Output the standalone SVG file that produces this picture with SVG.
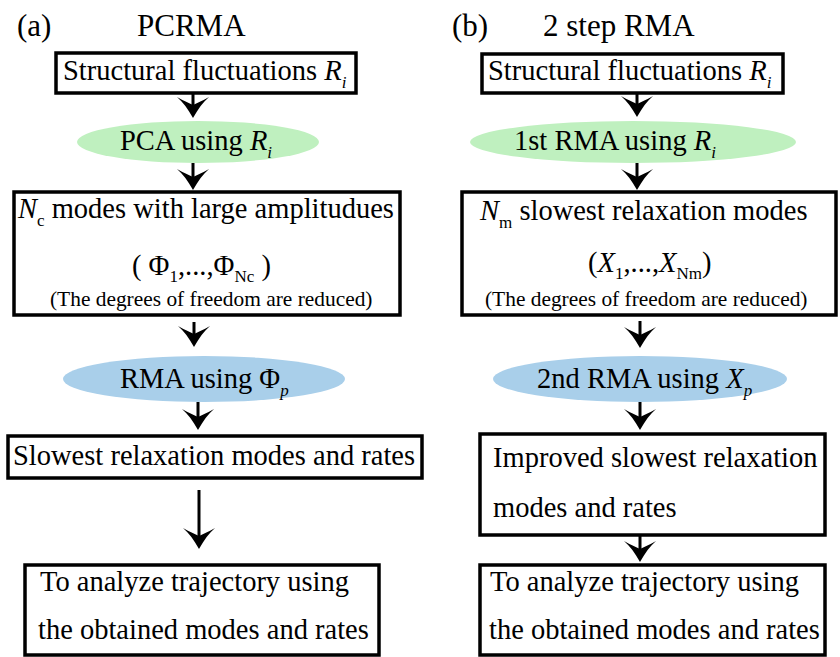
<svg xmlns="http://www.w3.org/2000/svg" xmlns:xlink="http://www.w3.org/1999/xlink" width="840" height="657" viewBox="0 0 840 657" font-family="Liberation Serif, Tinos, Times New Roman, DejaVu Serif, serif">
<style>
text{font-family:"Liberation Serif",Tinos,"Times New Roman","DejaVu Serif",serif;fill:#000}
.t{font-size:28.5px}
.s{font-size:21.4px}
.h{font-size:31px}
.it{font-style:italic}
.sub{font-size:17px}
.box{fill:#fff;stroke:#000;stroke-width:3.5}
.g{fill:#bff0bf}
.b{fill:#a9cfea}
.ln{stroke:#000;stroke-width:3;fill:none}
</style>
<defs>
<path id="ah" d="M0,0 C-5,-9 -10,-16 -16,-21 C-9,-17 -4,-15 0,-13 C4,-15 9,-17 16,-21 C10,-16 5,-9 0,0 Z" fill="#000"/>
</defs>
<rect width="840" height="657" fill="#fff"/>
<g id="titles">
<text class="h" x="17" y="36">(a)</text>
<text class="h" x="137" y="36">PCRMA</text>
<text class="h" x="452" y="36">(b)</text>
<text class="h" x="543" y="36">2 step RMA</text>
</g>
<g id="connectors">
<line class="ln" x1="193" y1="93" x2="193" y2="108"/><use xlink:href="#ah" x="193" y="118"/>
<line class="ln" x1="193" y1="163" x2="193" y2="180"/><use xlink:href="#ah" x="193" y="190"/>
<line class="ln" x1="194" y1="322" x2="194" y2="338"/><use xlink:href="#ah" x="194" y="347"/>
<line class="ln" x1="198" y1="402" x2="198" y2="420"/><use xlink:href="#ah" x="198" y="430"/>
<line class="ln" x1="199" y1="490" x2="199" y2="538"/><use xlink:href="#ah" x="199" y="549"/>
<line class="ln" x1="637" y1="93" x2="637" y2="108"/><use xlink:href="#ah" x="637" y="117"/>
<line class="ln" x1="637" y1="163" x2="637" y2="180"/><use xlink:href="#ah" x="637" y="190"/>
<line class="ln" x1="640" y1="321" x2="640" y2="338"/><use xlink:href="#ah" x="640" y="348"/>
<line class="ln" x1="640" y1="402" x2="640" y2="420"/><use xlink:href="#ah" x="640" y="430"/>
<line class="ln" x1="640" y1="535" x2="640" y2="552"/><use xlink:href="#ah" x="640" y="562"/>
</g>
<g id="a-struct">
<rect class="box" x="56" y="53" width="300" height="40"/>
<text class="t" x="63" y="80">Structural fluctuations <tspan class="it">R</tspan><tspan class="sub it" dy="8">i</tspan></text>
</g>
<g id="a-pca">
<ellipse class="g" cx="198" cy="142" rx="121" ry="21"/>
<text class="t" x="120" y="150">PCA using <tspan class="it">R</tspan><tspan class="sub it" dy="8">i</tspan></text>
</g>
<g id="a-modes">
<rect class="box" x="14" y="192" width="386" height="123"/>
<text class="t" x="18" y="218"><tspan class="it">N</tspan><tspan class="sub" dy="8">c</tspan><tspan dy="-8"> modes with large amplitudues</tspan></text>
<text class="t" x="132" y="275">( Φ<tspan class="sub" dy="7">1</tspan><tspan dy="-7">,...,Φ</tspan><tspan class="sub" dy="7">Nc</tspan><tspan dy="-7"> )</tspan></text>
<text class="s" x="50" y="306">(The degrees of freedom are reduced)</text>
</g>
<g id="a-rma">
<ellipse class="b" cx="204" cy="379" rx="141" ry="23"/>
<text class="t" x="120" y="388">RMA using Φ<tspan class="sub it" dy="8">p</tspan></text>
</g>
<g id="a-slowest">
<rect class="box" x="8" y="436" width="414" height="42"/>
<text class="t" x="13" y="465">Slowest relaxation modes and rates</text>
</g>
<g id="a-analyze">
<rect class="box" x="25" y="565" width="354" height="90"/>
<text class="t" x="40" y="591">To analyze trajectory using</text>
<text class="t" x="38" y="639">the obtained modes and rates</text>
</g>
<g id="b-struct">
<rect class="box" x="482" y="54" width="301" height="39"/>
<text class="t" x="488" y="80">Structural fluctuations <tspan class="it">R</tspan><tspan class="sub it" dy="8">i</tspan></text>
</g>
<g id="b-rma1">
<ellipse class="g" cx="633" cy="142" rx="163" ry="21"/>
<text class="t" x="514" y="150">1st RMA using <tspan class="it">R</tspan><tspan class="sub it" dy="8">i</tspan></text>
</g>
<g id="b-modes">
<rect class="box" x="462" y="192" width="374" height="123"/>
<text class="t" x="480" y="220"><tspan class="it">N</tspan><tspan class="sub" dy="8">m</tspan><tspan dy="-8"> slowest relaxation modes</tspan></text>
<text class="t" x="588" y="272">(<tspan class="it">X</tspan><tspan class="sub" dy="7">1</tspan><tspan dy="-7">,...,</tspan><tspan class="it">X</tspan><tspan class="sub" dy="7">Nm</tspan><tspan dy="-7">)</tspan></text>
<text class="s" x="485" y="306">(The degrees of freedom are reduced)</text>
</g>
<g id="b-rma2">
<ellipse class="b" cx="640" cy="379" rx="147" ry="23"/>
<text class="t" x="537" y="388">2nd RMA using <tspan class="it">X</tspan><tspan class="sub it" dy="8">p</tspan></text>
</g>
<g id="b-improved">
<rect class="box" x="480" y="434" width="345" height="101"/>
<text class="t" x="493" y="467">Improved slowest relaxation</text>
<text class="t" x="493" y="517">modes and rates</text>
</g>
<g id="b-analyze">
<rect class="box" x="480" y="565" width="345" height="90"/>
<text class="t" x="490" y="591">To analyze trajectory using</text>
<text class="t" x="489" y="639">the obtained modes and rates</text>
</g>
</svg>
